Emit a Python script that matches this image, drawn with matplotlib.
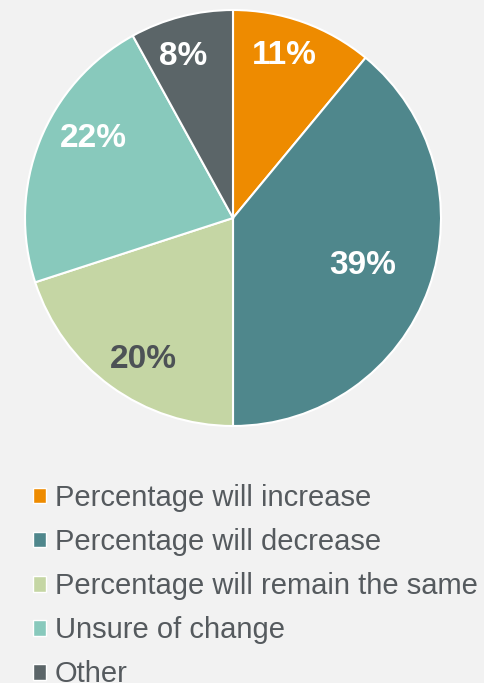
import matplotlib
matplotlib.use("Agg")
import matplotlib.pyplot as plt
import matplotlib.patches as mpatches
import numpy as np

# Survey answers and their shares (%)
categorias = [
    "Percentage will increase",
    "Percentage will decrease",
    "Percentage will remain the same",
    "Unsure of change",
    "Other",
]
valores = [11, 39, 20, 22, 8]

cores = ["#EE8B00", "#4F878C", "#C5D6A4", "#88C9BC", "#5B6568"]
cores_rotulo = ["white", "white", "#4D5256", "white", "white"]
# label placement: fraction of the radius and small angular nudge (deg)
dist_rotulo = [0.835, 0.66, 0.79, 0.78, 0.83]
desvio_rotulo = [2.7, 1.1, 2.9, -9.1, 2.4]

FUNDO = "#F2F2F2"
TEXTO = "#555A5E"

plt.rcParams["font.family"] = ["Liberation Sans", "DejaVu Sans"]

W, H = 485, 683
fig = plt.figure(figsize=(W / 100, H / 100), dpi=100, facecolor=FUNDO)

# pie area: square box in pixel coordinates
cx, cy, r = 233, 218, 208
ax = fig.add_axes([(cx - r) / W, (H - cy - r) / H, 2 * r / W, 2 * r / H])
ax.set_facecolor(FUNDO)

fatias, _ = ax.pie(
    valores, colors=cores, startangle=90, counterclock=False,
    wedgeprops=dict(edgecolor="white", linewidth=1.5),
)
ax.set_xlim(-1, 1)
ax.set_ylim(-1, 1)
ax.set_aspect("equal")
ax.axis("off")

for fatia, v, cor, d, da in zip(fatias, valores, cores_rotulo, dist_rotulo, desvio_rotulo):
    ang = np.deg2rad((fatia.theta1 + fatia.theta2) / 2 + da)
    ax.text(d * np.cos(ang), d * np.sin(ang), f"{v}%",
            ha="center", va="center_baseline", fontsize=24, fontweight="bold", color=cor)

# legend below the pie
handles = [mpatches.Patch(facecolor=c, edgecolor="white", linewidth=1.0) for c in cores]
leg = fig.legend(
    handles, categorias,
    loc="upper left", bbox_to_anchor=(33 / W, 1 - 484 / H),
    frameon=False, fontsize=21, labelcolor=TEXTO,
    handlelength=0.45, handleheight=0.45, handletextpad=0.3,
    labelspacing=0.55, borderaxespad=0, borderpad=0,
)

fig.savefig("out.png", dpi=100, facecolor=FUNDO)
